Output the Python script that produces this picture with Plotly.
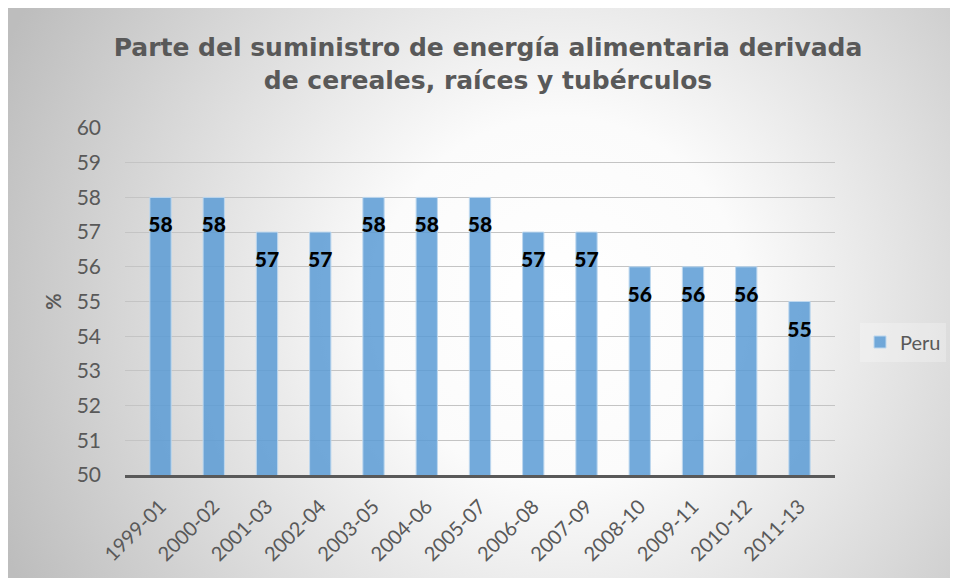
import base64
import plotly.graph_objects as go

periods = ["1999-01", "2000-02", "2001-03", "2002-04", "2003-05", "2004-06", "2005-07",
           "2006-08", "2007-09", "2008-10", "2009-11", "2010-12", "2011-13"]
peru = [58, 58, 57, 57, 58, 58, 58, 57, 57, 56, 56, 56, 55]
y_ticks = list(range(50, 61))

W, H = 958, 578
ML, MR, MT, MB = 117, 131, 120, 111
PW, PH = W - ML - MR, H - MT - MB

label_offset = 0.86  # data labels sit just inside the bar end
label_y = [v - label_offset for v in peru]

svg = (
    '<svg xmlns="http://www.w3.org/2000/svg" width="958" height="578" viewBox="0 0 958 578" preserveAspectRatio="none">'
    '<defs><radialGradient id="g" gradientUnits="userSpaceOnUse" cx="552" cy="292" r="610">'
    '<stop offset="0" stop-color="#ffffff"/><stop offset="0.3" stop-color="#fbfbfb"/>'
    '<stop offset="1" stop-color="#bdbdbd"/></radialGradient></defs>'
    '<rect x="0" y="0" width="958" height="578" fill="url(#g)"/></svg>'
)
bg_src = "data:image/svg+xml;base64," + base64.b64encode(svg.encode()).decode()

font_main = "Lato, 'Open Sans', sans-serif"
grey = "#595959"

fig = go.Figure()
fig.add_trace(go.Bar(
    x=periods, y=peru, name="Peru",
    marker=dict(color="rgba(91,155,213,0.85)", line=dict(color="#bdd7ee", width=1)),
    hoverinfo="x+y",
))
fig.add_trace(go.Scatter(
    x=periods, y=label_y, text=[str(v) for v in peru], mode="text",
    textposition="middle center",
    textfont=dict(family=font_main, size=21, color="#000000", weight=900),
    showlegend=False, hoverinfo="skip", cliponaxis=False,
))

fig.update_layout(
    width=W, height=H,
    margin=dict(l=ML, r=MR, t=MT, b=MB, autoexpand=False),
    paper_bgcolor="#ffffff", plot_bgcolor="rgba(0,0,0,0)",
    bargap=0.6,
    title=dict(
        text="Parte del suministro de energía alimentaria derivada<br>de cereales, raíces y tubérculos",
        font=dict(family="'DejaVu Sans', sans-serif", size=25, color=grey, weight="bold"),
        x=480 / W, xanchor="center", xref="container",
        y=1 - 48 / H, yanchor="top", yref="container",
    ),
    font=dict(family=font_main, color=grey, size=18),
    legend=dict(
        x=(852 - ML) / PW, xanchor="left", y=(H - MB - 334) / PH, yanchor="middle",
        bgcolor="rgba(255,255,255,0.25)", font=dict(family=font_main, size=20, color=grey),
        itemwidth=30,
    ),
    images=[dict(
        source=bg_src, xref="paper", yref="paper",
        x=-ML / PW, y=1 + MT / PH, sizex=W / PW, sizey=H / PH,
        xanchor="left", yanchor="top", sizing="stretch", layer="below",
    )],
)
fig.update_yaxes(
    range=[50, 60], tickvals=y_ticks, showgrid=True, gridcolor="#c4c4c4", gridwidth=1,
    zeroline=False, showline=False, ticklabelstandoff=23,
    tickfont=dict(family=font_main, size=21, color=grey),
    title=dict(text="%", font=dict(family=font_main, size=20, color=grey, weight="bold"), standoff=9),
)
fig.update_xaxes(
    type="category", showline=True, linecolor=grey, linewidth=3, tickangle=-45, showgrid=False,
    ticklabelstandoff=9, tickfont=dict(family=font_main, size=20, color=grey),
)

fig.write_html("out.html")
